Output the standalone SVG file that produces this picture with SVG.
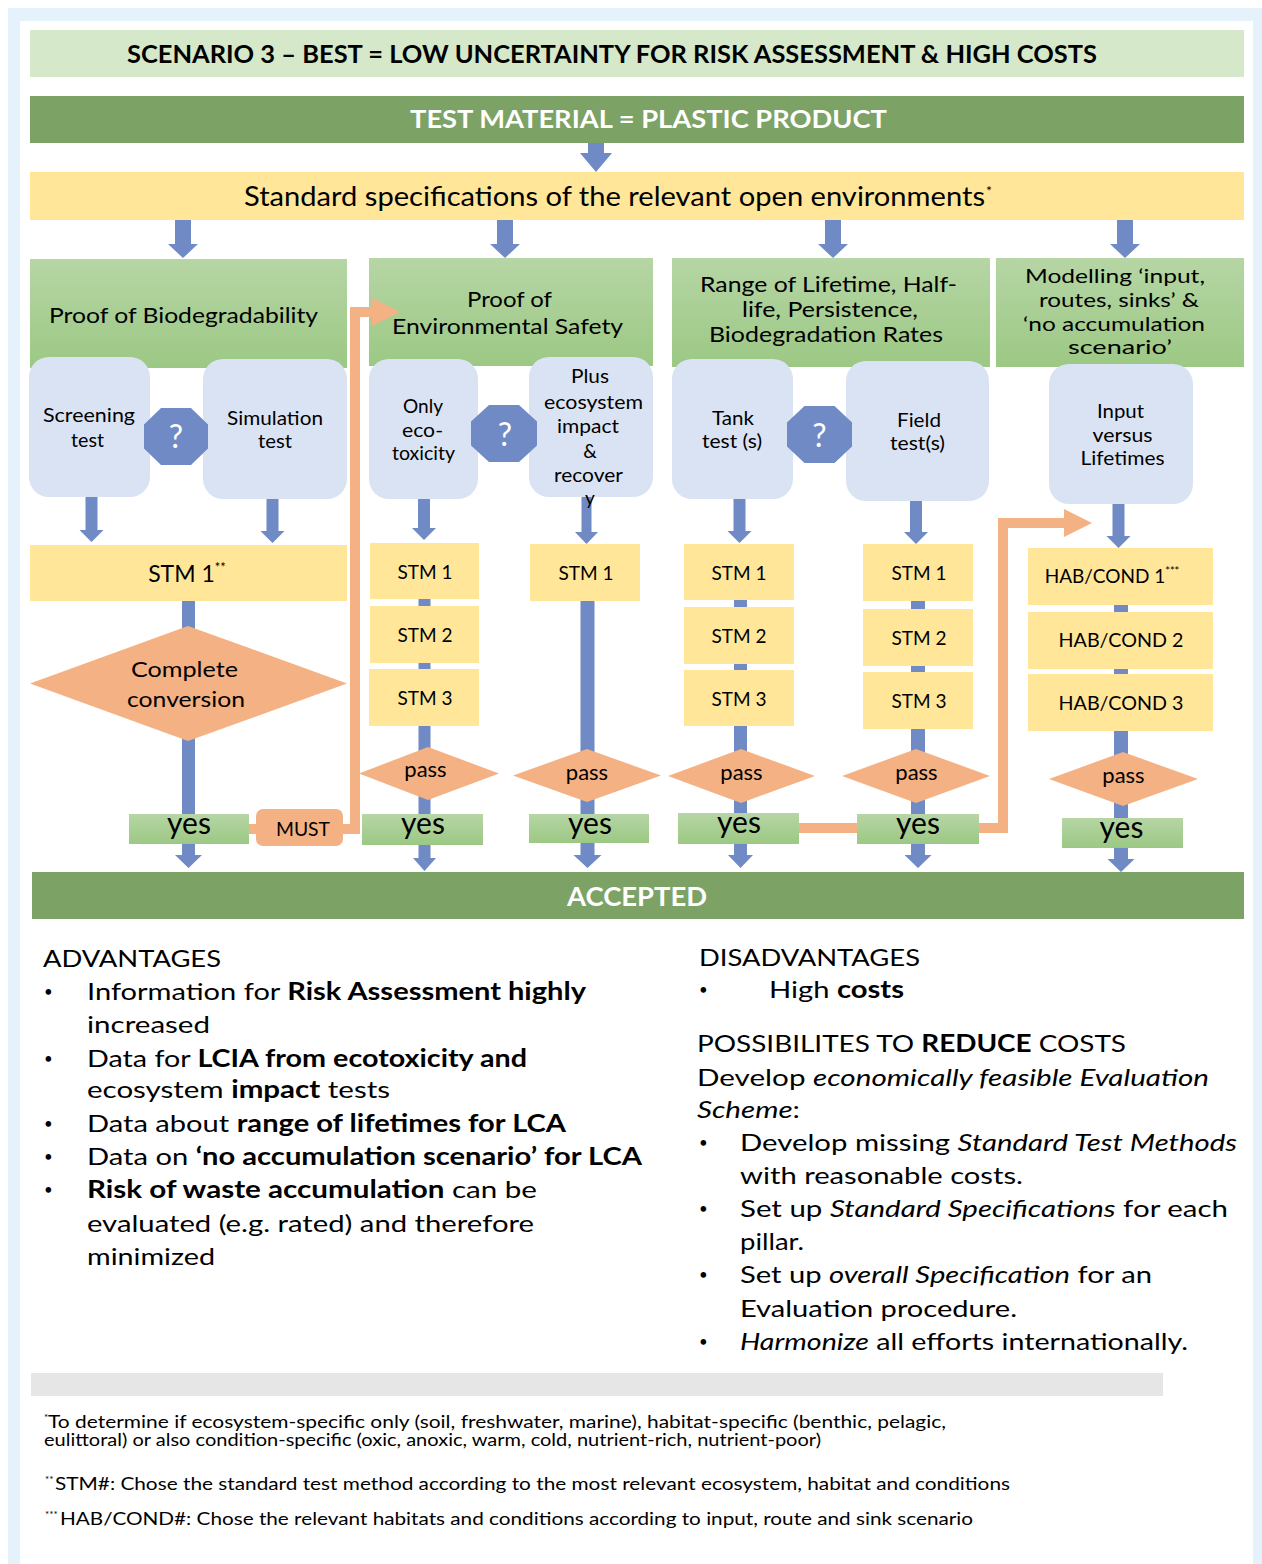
<svg xmlns="http://www.w3.org/2000/svg" width="1262" height="1564" viewBox="0 0 1262 1564">
<defs>
<linearGradient id="gHead" x1="0" y1="0" x2="0" y2="1"><stop offset="0" stop-color="#b6d6a5"/><stop offset="1" stop-color="#9cc884"/></linearGradient>
<style>
text{font-family:Lato,"Open Sans","Liberation Sans",sans-serif;fill:#000}
.hd{fill:url(#gHead)}
.lb{fill:#dae3f3}
.yl{fill:#ffe699}
.or{fill:#f4b183}
.bl{fill:#6f8ac5}
.c{text-anchor:middle}
.h22{font-size:22px}
.h20{font-size:20px}
.b19{font-size:19px}
.stm{font-size:19px}
.yes{font-size:30px}
.pass{font-size:22px}
.q{font-size:32px;fill:#fff}
.body{font-size:24px}
.bul{font-size:15px}
.foot{font-size:17.5px}
.b{font-weight:700}
.i{font-style:italic}
.oline{fill:none;stroke:#f4b183;stroke-width:10;stroke-linejoin:miter}
</style>
</defs>
<rect x="0" y="0" width="1262" height="1564" fill="#fff"/>
<rect x="8" y="8" width="1254" height="1556" fill="#e6f2fb"/>
<rect x="20" y="21" width="1233" height="1543" fill="#fff"/>

<g id="title">
<rect x="30" y="30" width="1214" height="47" fill="#d5e8c9"/>
<text x="612" y="63" class="c b" font-size="24" textLength="970" lengthAdjust="spacingAndGlyphs">SCENARIO 3 – BEST = LOW UNCERTAINTY FOR RISK ASSESSMENT &amp; HIGH COSTS</text>
</g>
<g id="test-material">
<rect x="30" y="96" width="1214" height="47" fill="#7da265"/>
<text x="648.5" y="128" class="c b" font-size="25" style="fill:#fff" textLength="477" lengthAdjust="spacingAndGlyphs">TEST MATERIAL = PLASTIC PRODUCT</text>
</g>
<g id="standard-spec">
<rect x="30" y="172" width="1214" height="48" class="yl"/>
<text x="244" y="206" font-size="26" textLength="741" lengthAdjust="spacingAndGlyphs">Standard specifications of the relevant open environments</text>
<text x="986" y="196" font-size="14">*</text>
</g>

<g id="connectors">
<path class="bl" d="M588 143 H604 V153 H612 L596 172 L580 153 H588 Z"/>
<path class="bl" d="M175 220 H191 V244 H198 L183 258 L168 244 H175 Z"/>
<path class="bl" d="M497 220 H513 V244 H520 L505 258 L490 244 H497 Z"/>
<path class="bl" d="M825 220 H841 V244 H848 L833 258 L818 244 H825 Z"/>
<path class="bl" d="M1117 220 H1133 V244 H1140 L1125 258 L1110 244 H1117 Z"/>
<path class="bl" d="M85.5 497 H97.5 V530 H103.5 L91.5 542 L79.5 530 H85.5 Z"/>
<path class="bl" d="M266.5 499 H278.5 V531 H284.5 L272.5 543 L260.5 531 H266.5 Z"/>
<path class="bl" d="M418 499 H430 V528 H436 L424 540 L412 528 H418 Z"/>
<path class="bl" d="M581.5 497 H591.5 V532 H598 L586.5 544 L575 532 H581.5 Z"/>
<path class="bl" d="M733.5 499 H745.5 V531 H751.5 L739.5 543 L727.5 531 H733.5 Z"/>
<path class="bl" d="M910 501 H922 V532 H928 L916 544 L904 532 H910 Z"/>
<path class="bl" d="M1112.5 504 H1124.5 V536 H1130.5 L1118.5 548 L1106.5 536 H1112.5 Z"/>
<path class="bl" d="M182 601 H195 V855 H202 L188.5 868 L175 855 H182 Z"/>
<path class="bl" d="M418.5 599 H430.5 V858 H436 L424.5 871 L413 858 H418.5 Z"/>
<path class="bl" d="M580.5 600 H594.5 V855 H601.5 L587.5 868 L573.5 855 H580.5 Z"/>
<path class="bl" d="M734 600 H747 V855 H753 L740.5 868 L728 855 H734 Z"/>
<path class="bl" d="M911 601 H925 V855 H931.5 L918 868 L904.5 855 H911 Z"/>
<path class="bl" d="M1114 605 H1128 V859 H1134.5 L1121 872 L1107.5 859 H1114 Z"/>
</g>

<g id="pillar-biodegradability">
<rect x="30" y="259" width="317" height="109" class="hd"/>
<text x="183.5" y="323" class="c h22" textLength="269" lengthAdjust="spacingAndGlyphs">Proof of Biodegradability</text>
</g>
<g id="pillar-safety">
<rect x="369" y="258" width="284" height="108" class="hd"/>
<text x="509.5" y="307" class="c h22" textLength="85" lengthAdjust="spacingAndGlyphs">Proof of</text>
<text x="507.5" y="334" class="c h22" textLength="231" lengthAdjust="spacingAndGlyphs">Environmental Safety</text>
</g>
<g id="pillar-lifetime">
<rect x="672" y="258" width="318" height="109" class="hd"/>
<text x="828.5" y="292" class="c h22" textLength="257" lengthAdjust="spacingAndGlyphs">Range of Lifetime, Half-</text>
<text x="830" y="317" class="c h22" textLength="176" lengthAdjust="spacingAndGlyphs">life, Persistence,</text>
<text x="826" y="342" class="c h22" textLength="234" lengthAdjust="spacingAndGlyphs">Biodegradation Rates</text>
</g>
<g id="pillar-modelling">
<rect x="996" y="258" width="248" height="109" class="hd"/>
<text x="1115" y="283" class="c h20" textLength="180" lengthAdjust="spacingAndGlyphs">Modelling ‘input,</text>
<text x="1119" y="307" class="c h20" textLength="160" lengthAdjust="spacingAndGlyphs">routes, sinks’ &amp;</text>
<text x="1114" y="331" class="c h20" textLength="182" lengthAdjust="spacingAndGlyphs">‘no accumulation</text>
<text x="1120" y="354" class="c h20" textLength="104" lengthAdjust="spacingAndGlyphs">scenario’</text>
</g>

<g id="screening-test">
<rect x="29" y="357" width="121" height="140" rx="20" class="lb"/>
<text x="89" y="422" class="c b19" textLength="92" lengthAdjust="spacingAndGlyphs">Screening</text>
<text x="87.5" y="447" class="c b19" textLength="33" lengthAdjust="spacingAndGlyphs">test</text>
</g>
<g id="simulation-test">
<rect x="203" y="359" width="144" height="140" rx="20" class="lb"/>
<text x="275" y="425" class="c b19" textLength="96" lengthAdjust="spacingAndGlyphs">Simulation</text>
<text x="275" y="448" class="c b19" textLength="34" lengthAdjust="spacingAndGlyphs">test</text>
</g>
<g id="only-ecotoxicity">
<rect x="369" y="359" width="109" height="140" rx="20" class="lb"/>
<text x="423" y="413" class="c b19" textLength="40" lengthAdjust="spacingAndGlyphs">Only</text>
<text x="422.5" y="437" class="c b19" textLength="41" lengthAdjust="spacingAndGlyphs">eco-</text>
<text x="423.5" y="460" class="c b19" textLength="63" lengthAdjust="spacingAndGlyphs">toxicity</text>
</g>
<g id="plus-ecosystem">
<rect x="529" y="357" width="124" height="140" rx="20" class="lb"/>
<text x="590" y="383" class="c b19" textLength="38" lengthAdjust="spacingAndGlyphs">Plus</text>
<text x="593.5" y="409" class="c b19" textLength="99" lengthAdjust="spacingAndGlyphs">ecosystem</text>
<text x="588" y="433" class="c b19" textLength="62" lengthAdjust="spacingAndGlyphs">impact</text>
<text x="590" y="458" class="c b19">&amp;</text>
<text x="588.5" y="482" class="c b19" textLength="69" lengthAdjust="spacingAndGlyphs">recover</text>
<text x="590" y="505" class="c b19">y</text>
</g>
<g id="tank-test">
<rect x="672" y="359" width="121" height="140" rx="20" class="lb"/>
<text x="733" y="425" class="c b19" textLength="42" lengthAdjust="spacingAndGlyphs">Tank</text>
<text x="732" y="448" class="c b19" textLength="60" lengthAdjust="spacingAndGlyphs">test (s)</text>
</g>
<g id="field-test">
<rect x="846" y="361" width="143" height="140" rx="20" class="lb"/>
<text x="919" y="427" class="c b19" textLength="44" lengthAdjust="spacingAndGlyphs">Field</text>
<text x="917.5" y="450" class="c b19" textLength="55" lengthAdjust="spacingAndGlyphs">test(s)</text>
</g>
<g id="input-lifetimes">
<rect x="1049" y="364" width="144" height="140" rx="20" class="lb"/>
<text x="1120.5" y="418" class="c b19" textLength="47" lengthAdjust="spacingAndGlyphs">Input</text>
<text x="1122.5" y="442" class="c b19" textLength="60" lengthAdjust="spacingAndGlyphs">versus</text>
<text x="1122.5" y="465" class="c b19" textLength="84" lengthAdjust="spacingAndGlyphs">Lifetimes</text>
</g>

<g id="choice-1">
<polygon class="bl" points="161,408 191,408 208,424.5 208,448.5 191,465 161,465 144,448.5 144,424.5"/>
<text x="176" y="448" class="c q">?</text>
</g>
<g id="choice-2">
<polygon class="bl" points="489,405 519,405 537,421.5 537,445.5 519,462 489,462 471,445.5 471,421.5"/>
<text x="505" y="446" class="c q">?</text>
</g>
<g id="choice-3">
<polygon class="bl" points="804.5,406 834.5,406 852,422.5 852,446.5 834.5,463 804.5,463 787,446.5 787,422.5"/>
<text x="819.5" y="447" class="c q">?</text>
</g>

<g id="stm-bio">
<rect x="30" y="545" width="317" height="56" class="yl"/>
<text x="187" y="582" class="c" font-size="23">STM 1<tspan font-size="13" dy="-10">**</tspan></text>
</g>
<g id="stm-eco">
<rect x="370" y="543" width="109" height="56" class="yl"/>
<text x="425" y="579" class="c stm">STM 1</text>
<rect x="370" y="606" width="109" height="57" class="yl"/>
<text x="425" y="642" class="c stm">STM 2</text>
<rect x="369" y="669" width="110" height="57" class="yl"/>
<text x="425" y="705" class="c stm">STM 3</text>
</g>
<g id="stm-ecosystem">
<rect x="530" y="544" width="110" height="57" class="yl"/>
<text x="586" y="580" class="c stm">STM 1</text>
</g>
<g id="stm-tank">
<rect x="684" y="544" width="110" height="56" class="yl"/>
<text x="739" y="580" class="c stm">STM 1</text>
<rect x="684" y="607" width="110" height="57" class="yl"/>
<text x="739" y="643" class="c stm">STM 2</text>
<rect x="684" y="670" width="110" height="56" class="yl"/>
<text x="739" y="706" class="c stm">STM 3</text>
</g>
<g id="stm-field">
<rect x="863" y="544" width="110" height="57" class="yl"/>
<text x="919" y="580" class="c stm">STM 1</text>
<rect x="863" y="609" width="110" height="57" class="yl"/>
<text x="919" y="645" class="c stm">STM 2</text>
<rect x="863" y="672" width="110" height="57" class="yl"/>
<text x="919" y="708" class="c stm">STM 3</text>
</g>
<g id="hab-cond">
<rect x="1028" y="548" width="185" height="57" class="yl"/>
<text x="1112" y="583" class="c stm">HAB/COND 1<tspan font-size="11" dy="-8">***</tspan></text>
<rect x="1028" y="612" width="185" height="57" class="yl"/>
<text x="1121" y="647" class="c stm" textLength="125" lengthAdjust="spacingAndGlyphs">HAB/COND 2</text>
<rect x="1028" y="674" width="185" height="57" class="yl"/>
<text x="1121" y="710" class="c stm" textLength="125" lengthAdjust="spacingAndGlyphs">HAB/COND 3</text>
</g>

<g id="complete-conversion">
<polygon class="or" points="30,683.5 188,626 347,683.5 188,741"/>
<text x="184.5" y="677" class="c h22" textLength="107" lengthAdjust="spacingAndGlyphs">Complete</text>
<text x="186" y="707" class="c h22" textLength="118" lengthAdjust="spacingAndGlyphs">conversion</text>
</g>
<g id="pass-eco">
<polygon class="or" points="359,773.5 428,747 499,773.5 428,800"/>
<text x="425.5" y="777" class="c pass">pass</text>
</g>
<g id="pass-ecosystem">
<polygon class="or" points="513,775.5 587,749 661,775.5 587,802"/>
<text x="587" y="780" class="c pass">pass</text>
</g>
<g id="pass-tank">
<polygon class="or" points="668,776 741,749 815,776 741,803"/>
<text x="741.5" y="780" class="c pass">pass</text>
</g>
<g id="pass-field">
<polygon class="or" points="842,776 916,749 990,776 916,803"/>
<text x="916.5" y="780" class="c pass">pass</text>
</g>
<g id="pass-hab">
<polygon class="or" points="1049,779 1123,752 1198,779 1123,806"/>
<text x="1123.5" y="783" class="c pass">pass</text>
</g>

<g id="yes-1"><rect x="129" y="814" width="120" height="30" class="hd"/><text x="189" y="834" class="c yes">yes</text></g>
<g id="yes-2"><rect x="362" y="814" width="121" height="31" class="hd"/><text x="423" y="834" class="c yes">yes</text></g>
<g id="yes-3"><rect x="529" y="814" width="120" height="29" class="hd"/><text x="590" y="834" class="c yes">yes</text></g>
<g id="yes-4"><rect x="678" y="813" width="121" height="31" class="hd"/><text x="739" y="833" class="c yes">yes</text></g>
<g id="yes-5"><rect x="857" y="814" width="122" height="30" class="hd"/><text x="918" y="834" class="c yes">yes</text></g>
<g id="yes-6"><rect x="1062" y="818" width="121" height="30" class="hd"/><text x="1121.5" y="838" class="c yes">yes</text></g>

<g id="must">
<rect x="256" y="809" width="87" height="37" rx="7" class="or"/>
<text x="303" y="836" class="c" font-size="19" textLength="54" lengthAdjust="spacingAndGlyphs">MUST</text>
</g>

<g id="accepted">
<rect x="32" y="872" width="1212" height="47" fill="#7da265"/>
<text x="637" y="906" class="c b" font-size="26" style="fill:#fff" textLength="140" lengthAdjust="spacingAndGlyphs">ACCEPTED</text>
</g>

<g id="connectors-feedback">
<path class="oline" d="M249 829 H256"/>
<path class="oline" d="M343 829 H355 V312 H374"/>
<polygon class="or" points="372,298 400,312 372,326"/>
<path class="oline" d="M799 828 H857"/>
<path class="oline" d="M979 828 H1003 V523 H1065"/>
<polygon class="or" points="1064,509 1092,523 1064,537"/>
</g>

<g id="advantages">
<text x="43" y="967" class="body" textLength="178" lengthAdjust="spacingAndGlyphs">ADVANTAGES</text>
<text x="44" y="997" class="bul">•</text>
<text x="87" y="1000" class="body" textLength="499" lengthAdjust="spacingAndGlyphs">Information for <tspan class="b">Risk Assessment highly</tspan></text>
<text x="87" y="1033" class="body" textLength="123" lengthAdjust="spacingAndGlyphs">increased</text>
<text x="44" y="1064" class="bul">•</text>
<text x="87" y="1067" class="body" textLength="440" lengthAdjust="spacingAndGlyphs">Data for <tspan class="b">LCIA from ecotoxicity and</tspan></text>
<text x="87" y="1098" class="body" textLength="303" lengthAdjust="spacingAndGlyphs">ecosystem <tspan class="b">impact</tspan> tests</text>
<text x="44" y="1129" class="bul">•</text>
<text x="87" y="1132" class="body" textLength="479" lengthAdjust="spacingAndGlyphs">Data about <tspan class="b">range of lifetimes for LCA</tspan></text>
<text x="44" y="1162" class="bul">•</text>
<text x="87" y="1165" class="body" textLength="555" lengthAdjust="spacingAndGlyphs">Data on <tspan class="b">‘no accumulation scenario’ for LCA</tspan></text>
<text x="44" y="1195" class="bul">•</text>
<text x="87" y="1198" class="body" textLength="450" lengthAdjust="spacingAndGlyphs"><tspan class="b">Risk of waste accumulation</tspan> can be</text>
<text x="87" y="1232" class="body" textLength="447" lengthAdjust="spacingAndGlyphs">evaluated (e.g. rated) and therefore</text>
<text x="87" y="1265" class="body" textLength="128" lengthAdjust="spacingAndGlyphs">minimized</text>
</g>

<g id="disadvantages">
<text x="699" y="966" class="body" textLength="221" lengthAdjust="spacingAndGlyphs">DISADVANTAGES</text>
<text x="699" y="995" class="bul">•</text>
<text x="769" y="998" class="body" textLength="135" lengthAdjust="spacingAndGlyphs">High <tspan class="b">costs</tspan></text>
<text x="697" y="1052" class="body" textLength="429" lengthAdjust="spacingAndGlyphs">POSSIBILITES TO <tspan class="b">REDUCE</tspan> COSTS</text>
<text x="697" y="1086" class="body" textLength="512" lengthAdjust="spacingAndGlyphs">Develop <tspan class="i">economically feasible Evaluation</tspan></text>
<text x="697" y="1118" class="body" textLength="103" lengthAdjust="spacingAndGlyphs"><tspan class="i">Scheme</tspan>:</text>
<text x="699" y="1148" class="bul">•</text>
<text x="740" y="1151" class="body" textLength="497" lengthAdjust="spacingAndGlyphs">Develop missing <tspan class="i">Standard Test Methods</tspan></text>
<text x="740" y="1184" class="body" textLength="283" lengthAdjust="spacingAndGlyphs">with reasonable costs.</text>
<text x="699" y="1214" class="bul">•</text>
<text x="740" y="1217" class="body" textLength="488" lengthAdjust="spacingAndGlyphs">Set up <tspan class="i">Standard Specifications</tspan> for each</text>
<text x="740" y="1250" class="body" textLength="64" lengthAdjust="spacingAndGlyphs">pillar.</text>
<text x="699" y="1280" class="bul">•</text>
<text x="740" y="1283" class="body" textLength="412" lengthAdjust="spacingAndGlyphs">Set up <tspan class="i">overall Specification</tspan> for an</text>
<text x="740" y="1317" class="body" textLength="277" lengthAdjust="spacingAndGlyphs">Evaluation procedure.</text>
<text x="699" y="1347" class="bul">•</text>
<text x="740" y="1350" class="body" textLength="448" lengthAdjust="spacingAndGlyphs"><tspan class="i">Harmonize</tspan> all efforts internationally.</text>
</g>

<g id="footnotes">
<rect x="31" y="1373" width="1132" height="23" fill="#e6e6e6"/>
<text x="44" y="1421" font-size="10">*</text>
<text x="48" y="1428" class="foot" textLength="898" lengthAdjust="spacingAndGlyphs">To determine if ecosystem-specific only (soil, freshwater, marine), habitat-specific (benthic, pelagic,</text>
<text x="44" y="1446" class="foot" textLength="777" lengthAdjust="spacingAndGlyphs">eulittoral) or also condition-specific (oxic, anoxic, warm, cold, nutrient-rich, nutrient-poor)</text>
<text x="45" y="1483" font-size="10">**</text>
<text x="55" y="1490" class="foot" textLength="955" lengthAdjust="spacingAndGlyphs">STM#: Chose the standard test method according to the most relevant ecosystem, habitat and conditions</text>
<text x="45" y="1518" font-size="10">***</text>
<text x="60" y="1525" class="foot" textLength="913" lengthAdjust="spacingAndGlyphs">HAB/COND#: Chose the relevant habitats and conditions according to input, route and sink scenario</text>
</g>
</svg>
